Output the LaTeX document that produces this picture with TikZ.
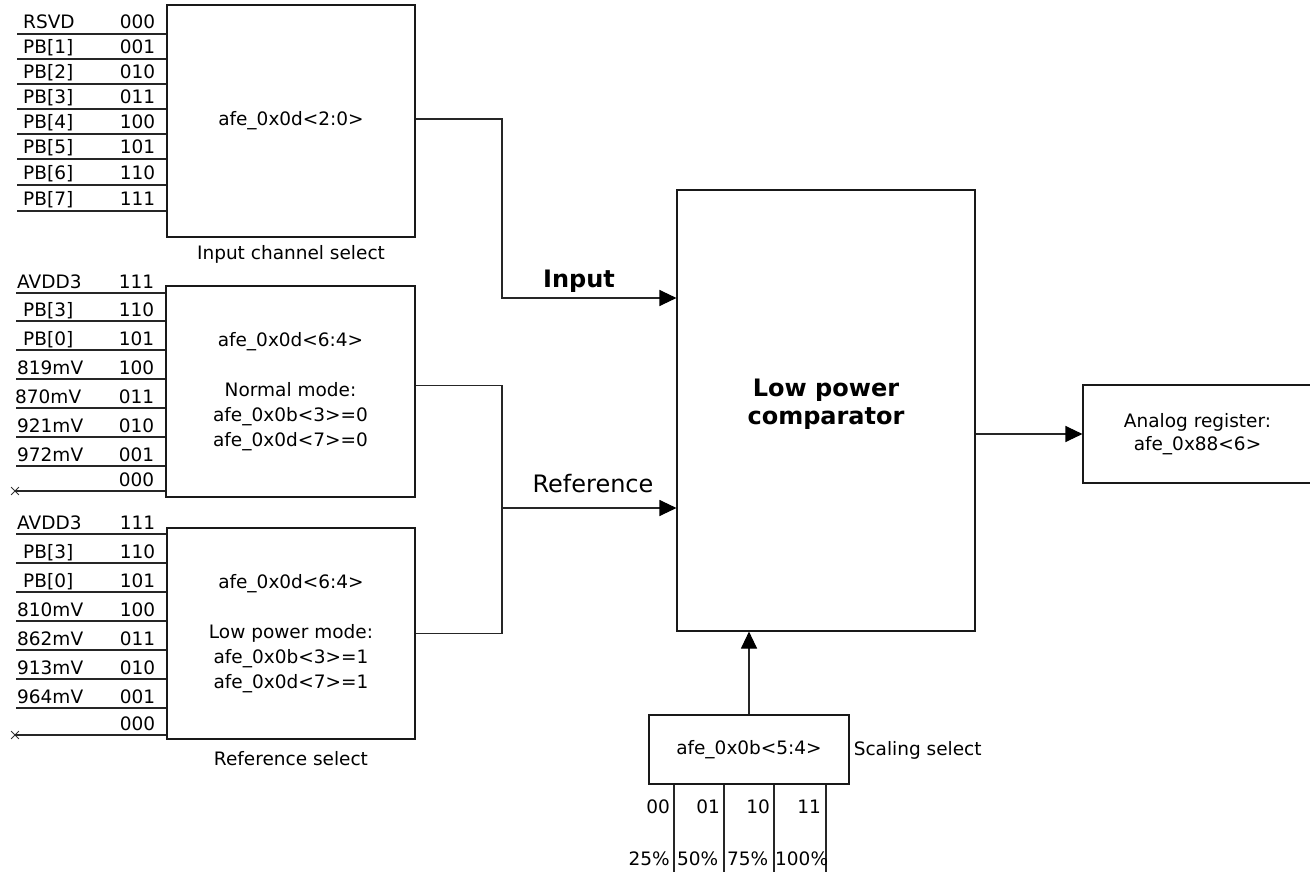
\documentclass[tikz,border=0pt]{standalone}
\usepackage{fontspec}
\setmainfont{DejaVu Sans}
\usetikzlibrary{arrows.meta,positioning,calc,shapes.misc}

\begin{document}
\begin{tikzpicture}[x=1pt,y=-1pt,
  font=\fontsize{18.5}{25}\selectfont,
  box/.style={draw=black!90,line width=1.1pt,inner sep=0pt,align=center},
  wire/.style={draw=black!85,line width=1.1pt},
  sig/.style={wire,-{Triangle[length=17pt,width=16pt,color=black]}},
  pinname/.style={anchor=base west,inner sep=0pt,yshift=5pt},
  pincode/.style={anchor=base east,inner sep=0pt,xshift=-11pt,yshift=5pt},
  xmark/.style={cross out,draw=black!80,line width=0.8pt,minimum size=7pt,inner sep=0pt},
  biglabel/.style={font=\fontsize{24}{28}\selectfont,inner sep=0pt}]
\useasboundingbox (0,0) rectangle (1310,872);

% boxes
\node[box,minimum width=248pt,minimum height=232pt] (chsel) at (291,121) {afe\_0x0d<2:0>};
\node[box,minimum width=249pt,minimum height=211pt] (normal) at (290.5,391.5)
  {afe\_0x0d<6:4>\\[25pt]Normal mode:\\afe\_0x0b<3>=0\\afe\_0x0d<7>=0};
\node[box,minimum width=248pt,minimum height=211pt] (lowpow) at (291,633.5)
  {afe\_0x0d<6:4>\\[25pt]Low power mode:\\afe\_0x0b<3>=1\\afe\_0x0d<7>=1};
\node[box,minimum width=298pt,minimum height=441pt] (comp) at (826,410.5) {};
\node[biglabel,font=\fontsize{24}{28}\selectfont\bfseries,align=center] (complabel)
  at ([yshift=6pt]comp.center) {Low power\\comparator};
\node[box,minimum width=200pt,minimum height=69pt] (scale) at (749,749.5) {afe\_0x0b<5:4>};
\node[box,minimum width=229pt,minimum height=98pt,font=\fontsize{18.5}{23}\selectfont] (analog)
  at (1197.5,434) {Analog register:\\afe\_0x88<6>};

% box captions
\node[anchor=base,inner sep=0pt] (chcap) at ([yshift=-22pt]chsel.south) {Input channel select};
\node[anchor=base,inner sep=0pt] (refcap) at ([yshift=-26pt]lowpow.south) {Reference select};
\node[anchor=base west,inner sep=0pt] (scalecap) at ([xshift=4pt,yshift=-6pt]scale.east) {Scaling select};

% input channel pins
\foreach \name/\code/\ly/\lx in {RSVD/000/34/23,PB[1]/001/59/23,PB[2]/010/84/23,PB[3]/011/109/23,
    PB[4]/100/134/23,PB[5]/101/159/23,PB[6]/110/185/23,PB[7]/111/211/23}{
  \coordinate (chin\code) at (17,\ly);
  \draw[wire] (chin\code) -- (chin\code -| chsel.west);
  \node[pinname] at (\lx,\ly) {\name};
  \node[pincode] at (chin\code -| chsel.west) {\code};
}

% reference pins, normal mode
\foreach \name/\code/\ly/\lx in {AVDD3/111/293/17,PB[3]/110/321/23,PB[0]/101/350/23,819mV/100/379/17,
    870mV/011/408/15,921mV/010/437/17,972mV/001/466/17}{
  \coordinate (nin\code) at (16,\ly);
  \draw[wire] (nin\code) -- (nin\code -| normal.west);
  \node[pinname] at (\lx,\ly) {\name};
  \node[pincode] at (nin\code -| normal.west) {\code};
}
\node[xmark] (nx) at (15,491) {};
\draw[wire] (nx.center) -- (nx.center -| normal.west);
\node[pincode] at (nx.center -| normal.west) {000};

% reference pins, low power mode
\foreach \name/\code/\ly/\lx in {AVDD3/111/534/17,PB[3]/110/563/23,PB[0]/101/592/23,810mV/100/621/17,
    862mV/011/650/17,913mV/010/679/17,964mV/001/708/17}{
  \coordinate (lin\code) at (16,\ly);
  \draw[wire] (lin\code) -- (lin\code -| lowpow.west);
  \node[pinname] at (\lx,\ly) {\name};
  \node[pincode] at (lin\code -| lowpow.west) {\code};
}
\node[xmark] (lx) at (15,735) {};
\draw[wire] (lx.center) -- (lx.center -| lowpow.west);
\node[pincode] at (lx.center -| lowpow.west) {000};

% comparator inputs
\coordinate (injoin) at (502,298);
\coordinate (refjoin) at (502,508);
\draw[sig] ([yshift=2pt]chsel.east) -| (injoin) -- (injoin -| comp.west);
\node[biglabel,font=\fontsize{24}{28}\selectfont\bfseries] (inlabel) at (579,281) {Input};
\draw[wire] ([yshift=6pt]normal.east) -| (refjoin) |- (lowpow.east);
\draw[sig] (refjoin) -- (refjoin -| comp.west);
\node[biglabel] (reflabel) at (593,484) {Reference};

% output and scaling
\draw[sig] (comp.east |- analog.west) -- (analog.west);
\draw[sig] (scale.north) -- (scale.north |- comp.south);

% scaling select legs
\foreach \x/\code in {674/00,724/01,774/10,826/11}{
  \coordinate (leg\code) at (\x,872);
  \draw[wire] (leg\code |- scale.south) -- (leg\code);
}
\foreach \x/\code in {670/00,720/01,770/10,821/11}
  \node[anchor=base east,inner sep=0pt] at (\x,813) {\code};
\node[anchor=base east,inner sep=0pt] at (670,865) {25\%};
\node[anchor=base west,inner sep=0pt] at (677,865) {50\%};
\node[anchor=base west,inner sep=0pt] at (727,865) {75\%};
\node[anchor=base west,inner sep=0pt] at (775,865) {100\%};
\end{tikzpicture}
\end{document}
